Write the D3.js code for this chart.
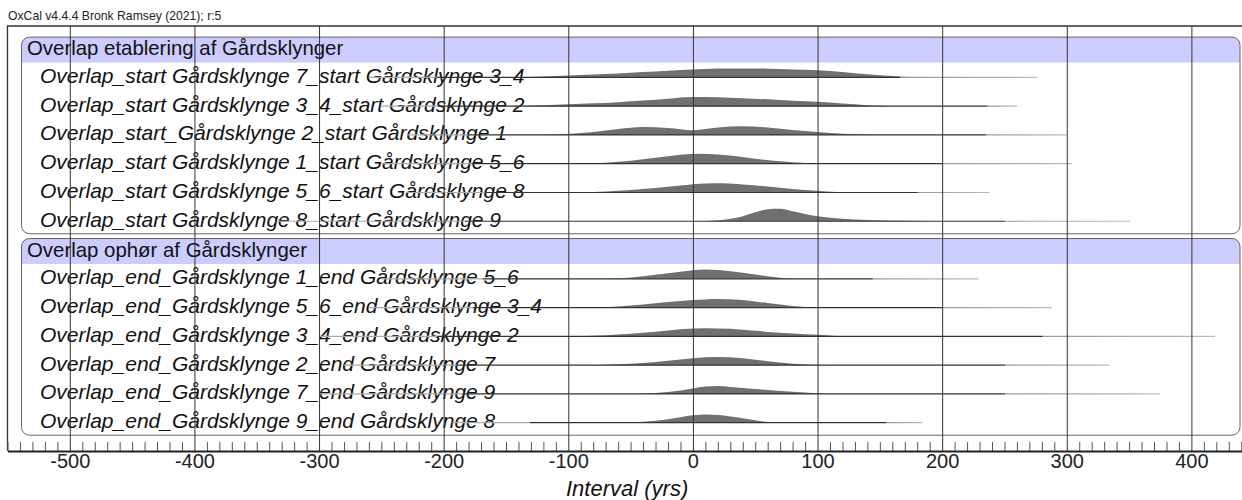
<!DOCTYPE html>
<html><head><meta charset="utf-8">
<script src="https://cdn.jsdelivr.net/npm/d3@7"></script>
<style>
html,body{margin:0;padding:0;background:#fff;}
svg{display:block;}
text{font-family:"Liberation Sans",Arial,sans-serif;}
</style></head>
<body>
<svg id="chart" width="1242" height="500"></svg>
<script>
// ---------- DATA ----------
const titleText = "OxCal v4.4.4 Bronk Ramsey (2021); r:5";
const axisTitle = "Interval (yrs)";
const groupNames = ["Overlap etablering af Gårdsklynger", "Overlap ophør af Gårdsklynger"];
const labelsStart = [
  "Overlap_start Gårdsklynge 7_start Gårdsklynge 3_4",
  "Overlap_start Gårdsklynge 3_4_start Gårdsklynge 2",
  "Overlap_start_Gårdsklynge 2_start Gårdsklynge 1",
  "Overlap_start Gårdsklynge 1_start Gårdsklynge 5_6",
  "Overlap_start Gårdsklynge 5_6_start Gårdsklynge 8",
  "Overlap_start Gårdsklynge 8_start Gårdsklynge 9"
];
const labelsEnd = [
  "Overlap_end_Gårdsklynge 1_end Gårdsklynge 5_6",
  "Overlap_end_Gårdsklynge 5_6_end Gårdsklynge 3_4",
  "Overlap_end_Gårdsklynge 3_4_end Gårdsklynge 2",
  "Overlap_end_Gårdsklynge 2_end Gårdsklynge 7",
  "Overlap_end_Gårdsklynge 7_end Gårdsklynge 9",
  "Overlap_end_Gårdsklynge 9_end Gårdsklynge 8"
];
// full range of each distribution (yrs) and where the line is still dark
const rangeLoStart = [-260, -250, -230, -250, -230, -333];
const rangeHiStart = [276, 260, 300, 304, 238, 351];
const coreHiStart  = [166, 236, 235, 200, 180, 250];
const rangeLoEnd   = [-250, -260, -300, -280, -300, -193];
const rangeHiEnd   = [229, 288, 419, 334, 375, 184];
const coreHiEnd    = [144, 200, 280, 250, 250, 155];
// relative probability density  [interval (yrs), density]
const densStart = [
  [[-140,0],[-120,.08],[-100,.18],[-80,.28],[-60,.4],[-40,.53],[-20,.66],[0,.78],[20,.88],[40,.9],[60,.87],[80,.8],[100,.72],[120,.55],[140,.32],[160,.13],[180,.02],[190,0]],
  [[-150,0],[-120,.1],[-100,.18],[-80,.28],[-60,.4],[-40,.56],[-20,.75],[0,.92],[20,.88],[40,.78],[60,.68],[80,.55],[100,.43],[120,.26],[140,.1],[150,.03],[160,0]],
  [[-120,0],[-100,.1],[-80,.3],[-60,.6],[-40,.8],[-20,.7],[0,.48],[20,.75],[40,.87],[60,.75],[80,.5],[100,.3],[120,.13],[140,.03],[150,0]],
  [[-90,0],[-70,.1],[-50,.3],[-30,.6],[-10,.9],[5,1.0],[20,.92],[35,.75],[50,.5],[70,.25],[90,.08],[100,0]],
  [[-90,0],[-70,.1],[-50,.25],[-30,.45],[-10,.7],[10,.9],[25,.92],[40,.8],[60,.6],[80,.35],[100,.18],[115,.05],[125,0]],
  [[0,0],[20,.1],[40,.5],[50,.9],[60,1.2],[70,1.25],[80,1.0],[100,.5],[120,.25],[140,.13],[160,.07],[190,.03],[200,0]]
];
const densEnd = [
  [[-70,0],[-58,.05],[-40,.25],[-20,.55],[0,.85],[10,.93],[20,.88],[40,.6],[60,.25],[70,.1],[80,.03],[90,0]],
  [[-75,0],[-60,.1],[-40,.3],[-20,.55],[0,.75],[20,.87],[40,.75],[60,.45],[80,.15],[90,.05],[100,0]],
  [[-90,0],[-70,.1],[-50,.25],[-30,.45],[-10,.7],[10,.82],[30,.75],[50,.55],[70,.35],[90,.2],[110,.08],[120,0]],
  [[-80,0],[-60,.08],[-40,.22],[-20,.45],[0,.7],[20,.82],[40,.7],[60,.4],[80,.15],[95,.05],[110,0]],
  [[-45,0],[-30,.1],[-10,.35],[0,.55],[10,.73],[20,.78],[30,.7],[50,.5],[70,.3],[90,.15],[100,.06],[110,0]],
  [[-55,0],[-40,.1],[-20,.35],[0,.75],[10,.83],[20,.78],[40,.45],[55,.15],[65,.03],[75,0]]
];
const xDomain = [-550, 441];
const majorTicks = [-500, -400, -300, -200, -100, 0, 100, 200, 300, 400];

// ---------- LAYOUT ----------
const svg = d3.select("#chart");
const frameTop = 26, axisY = 451;
const x = d3.scaleLinear().domain(xDomain).range([7.5, 1242.5]);
const slotY = d3.scaleLinear().domain([0, 13]).range([48.6, 422.7]);
const dens = d3.scaleLinear().domain([0, 1]).range([0, 10]);
const boxLeft = 21.5, boxRight = 1240;

const groups = [
  {name: groupNames[0], labels: labelsStart, lo: rangeLoStart, hi: rangeHiStart, core: coreHiStart, dens: densStart, slot0: 0},
  {name: groupNames[1], labels: labelsEnd, lo: rangeLoEnd, hi: rangeHiEnd, core: coreHiEnd, dens: densEnd, slot0: 7}
];

const defs = svg.append("defs");

// title
svg.append("text").attr("x", 8).attr("y", 20).attr("font-size", 12.2).attr("fill", "#222").text(titleText);

// outer frame
svg.append("path")
  .attr("d", `M${x(xDomain[0])},${axisY} V${frameTop} H${x(xDomain[1])}`)
  .attr("fill", "none").attr("stroke", "#333").attr("stroke-width", 1.3);

groups.forEach((g, gi) => {
  const top = slotY(g.slot0) - 11.5;
  const bandBottom = slotY(g.slot0) + 14;
  const bottom = slotY(g.slot0 + g.labels.length) + 12.5;
  const r = 8;
  defs.append("clipPath").attr("id", "box" + gi)
    .append("rect").attr("x", boxLeft).attr("y", top).attr("width", boxRight - boxLeft)
    .attr("height", bottom - top).attr("rx", r).attr("ry", r);
  svg.append("rect").attr("x", boxLeft).attr("y", top).attr("width", boxRight - boxLeft)
    .attr("height", bottom - top).attr("rx", r).attr("ry", r).attr("fill", "#fff");
  svg.append("rect").attr("clip-path", `url(#box${gi})`)
    .attr("x", boxLeft).attr("y", top).attr("width", boxRight - boxLeft)
    .attr("height", bandBottom - top).attr("fill", "#ccccff");
  svg.append("rect").attr("x", boxLeft).attr("y", top).attr("width", boxRight - boxLeft)
    .attr("height", bottom - top).attr("rx", r).attr("ry", r)
    .attr("fill", "none").attr("stroke", "#666").attr("stroke-width", 1);
  svg.append("text").attr("x", 27).attr("y", slotY(g.slot0) + 6.5)
    .attr("font-size", 20.4).attr("fill", "#111").text(g.name);

  g.labels.forEach((lab, i) => {
    const yRow = slotY(g.slot0 + 1 + i);
    svg.append("text").attr("x", 40).attr("y", yRow + 5.5)
      .attr("font-size", 21).attr("font-style", "italic").attr("fill", "#111").text(lab);

    const d = g.dens[i];
    const lo = g.lo[i], hi = g.hi[i];
    const fillLo = d[0][0];
    const leftCore = lo + 0.45 * (fillLo - lo);
    const gid = `lg${gi}_${i}`;
    const span = x(hi) - x(lo);
    const off = v => ((x(v) - x(lo)) / span);
    const grad = defs.append("linearGradient").attr("id", gid)
      .attr("gradientUnits", "userSpaceOnUse")
      .attr("x1", x(lo)).attr("x2", x(hi)).attr("y1", 0).attr("y2", 0);
    [[0, "#aaa"], [off(leftCore), "#aaa"], [off(leftCore) + 0.001, "#333"],
     [off(g.core[i]), "#333"], [off(g.core[i]) + 0.001, "#999"], [1, "#bbb"]]
      .forEach(s => grad.append("stop").attr("offset", s[0]).attr("stop-color", s[1]));

    const area = d3.area().x(p => x(p[0])).y0(yRow).y1(p => yRow - dens(p[1]))
      .curve(d3.curveMonotoneX);
    svg.append("path").datum(d).attr("d", area).attr("fill", "#707070");
    svg.append("line").attr("x1", x(lo)).attr("x2", x(hi)).attr("y1", yRow).attr("y2", yRow)
      .attr("stroke", `url(#${gid})`).attr("stroke-width", 1.2);
  });
});

// gridlines
const grid = svg.append("g").attr("transform", `translate(0,${axisY})`)
  .call(d3.axisBottom(x).tickValues(majorTicks).tickSize(-(axisY - frameTop)).tickFormat(""));
grid.select(".domain").remove();
grid.selectAll("line").attr("stroke", "#333").attr("stroke-width", 1);

// minor ticks
const minor = d3.range(-550, 441, 10).filter(v => v % 100 !== 0);
const mg = svg.append("g").attr("transform", `translate(0,${axisY})`)
  .call(d3.axisBottom(x).tickValues(minor).tickSize(-9).tickFormat(""));
mg.select(".domain").remove();
mg.selectAll("line").attr("stroke", "#555").attr("stroke-width", 1);

// axis
const ax = svg.append("g").attr("transform", `translate(0,${axisY})`)
  .call(d3.axisBottom(x).tickValues(majorTicks).tickSize(0).tickSizeOuter(0).tickPadding(3)
    .tickFormat(d => String(d)));
ax.select(".domain").attr("stroke", "#222").attr("stroke-width", 2);
ax.selectAll("text").attr("font-size", 20).attr("fill", "#222")
  .attr("font-family", '"Liberation Sans", Arial, sans-serif');

svg.append("text").attr("x", 566).attr("y", 496)
  .attr("font-family", "Lato, 'Open Sans', sans-serif").attr("font-style", "italic")
  .attr("font-size", 22).attr("fill", "#111").text(axisTitle);
</script>
</body></html>
